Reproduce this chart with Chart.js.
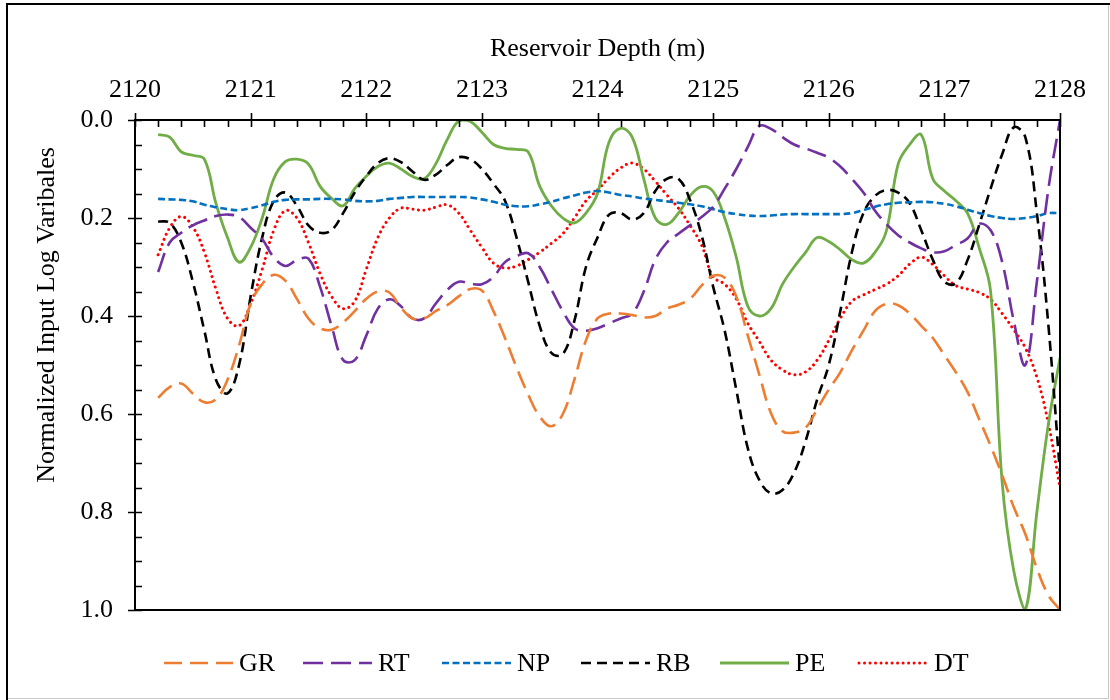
<!DOCTYPE html>
<html lang="en">
<head>
<meta charset="UTF-8" />
<title>Normalized input log variables vs reservoir depth</title>
<script src="https://cdn.jsdelivr.net/npm/chart.js@4.4.1/dist/chart.umd.min.js"></script>
<style>
  html, body { margin: 0; padding: 0; background: #fff; }
  canvas { display: block; }
</style>
</head>
<body>
<canvas id="chart" width="1110" height="700"></canvas>
<script>
// depth samples (m), one every 0.1 m
const depth = [
  2120.2, 2120.3, 2120.4, 2120.5, 2120.6, 2120.7, 2120.8, 2120.9, 2121.0,
  2121.1, 2121.2, 2121.3, 2121.4, 2121.5, 2121.6, 2121.7, 2121.8, 2121.9, 2122.0,
  2122.1, 2122.2, 2122.3, 2122.4, 2122.5, 2122.6, 2122.7, 2122.8, 2122.9, 2123.0,
  2123.1, 2123.2, 2123.3, 2123.4, 2123.5, 2123.6, 2123.7, 2123.8, 2123.9, 2124.0,
  2124.1, 2124.2, 2124.3, 2124.4, 2124.5, 2124.6, 2124.7, 2124.8, 2124.9, 2125.0,
  2125.1, 2125.2, 2125.3, 2125.4, 2125.5, 2125.6, 2125.7, 2125.8, 2125.9, 2126.0,
  2126.1, 2126.2, 2126.3, 2126.4, 2126.5, 2126.6, 2126.7, 2126.8, 2126.9, 2127.0,
  2127.1, 2127.2, 2127.3, 2127.4, 2127.5, 2127.6, 2127.7, 2127.8, 2127.9, 2128.0,
]

// normalized log curves
const gr = [
  0.567, 0.545, 0.538, 0.558, 0.576, 0.57, 0.53, 0.46, 0.375,
  0.335, 0.316, 0.328, 0.365, 0.405, 0.425, 0.428, 0.413, 0.39, 0.365,
  0.35, 0.352, 0.383, 0.405, 0.405, 0.39, 0.378, 0.36, 0.345, 0.348,
  0.39, 0.445, 0.505, 0.56, 0.605, 0.625, 0.6, 0.53, 0.45, 0.405,
  0.395, 0.395, 0.398, 0.403, 0.4, 0.385, 0.377, 0.365, 0.338, 0.318,
  0.322, 0.36, 0.44, 0.52, 0.598, 0.635, 0.638, 0.628, 0.59, 0.55,
  0.515, 0.47, 0.43, 0.39, 0.375, 0.378, 0.395, 0.42, 0.445, 0.48,
  0.515, 0.555, 0.61, 0.665, 0.725, 0.79, 0.845, 0.915, 0.97, 1.0,
]
const rt = [
  0.31, 0.25, 0.23, 0.215, 0.205, 0.196, 0.193, 0.198, 0.22,
  0.243, 0.28, 0.298, 0.286, 0.283, 0.34, 0.42, 0.49, 0.49, 0.44,
  0.385, 0.366, 0.38, 0.405, 0.405, 0.375, 0.347, 0.33, 0.334, 0.335,
  0.32, 0.29, 0.278, 0.272, 0.3, 0.345, 0.39, 0.425, 0.43, 0.425,
  0.415, 0.405, 0.395, 0.35, 0.285, 0.25, 0.232, 0.215, 0.198, 0.177,
  0.14, 0.1, 0.055, 0.012, 0.018, 0.035, 0.05, 0.058, 0.067, 0.077,
  0.095, 0.12, 0.148, 0.185, 0.213, 0.235, 0.25, 0.262, 0.27, 0.268,
  0.255, 0.242, 0.212, 0.225, 0.29, 0.41, 0.5, 0.33, 0.14, 0.0,
]
const np = [
  0.161, 0.162, 0.163, 0.166, 0.173, 0.178, 0.182, 0.184, 0.18,
  0.174, 0.167, 0.163, 0.162, 0.162, 0.161, 0.161, 0.162, 0.165, 0.166,
  0.165, 0.161, 0.159, 0.157, 0.157, 0.157, 0.157, 0.157, 0.158, 0.162,
  0.167, 0.173, 0.176, 0.176, 0.172, 0.167, 0.16, 0.154, 0.148, 0.145,
  0.148, 0.153, 0.156, 0.16, 0.163, 0.166, 0.169, 0.172, 0.176, 0.182,
  0.188, 0.192, 0.195, 0.196, 0.195, 0.193, 0.192, 0.192, 0.192, 0.192,
  0.192, 0.19, 0.184, 0.177, 0.172, 0.169, 0.168, 0.167, 0.168, 0.171,
  0.176, 0.183, 0.19, 0.196, 0.2, 0.202, 0.2, 0.196, 0.19, 0.19,
]
const rb = [
  0.207, 0.21, 0.25, 0.33, 0.43, 0.53, 0.558, 0.5, 0.36,
  0.24, 0.165, 0.148, 0.175, 0.215, 0.23, 0.225, 0.19, 0.148, 0.115,
  0.088, 0.078, 0.086, 0.105, 0.122, 0.112, 0.092, 0.076, 0.08, 0.1,
  0.13, 0.165, 0.24, 0.33, 0.42, 0.475, 0.478, 0.41, 0.3, 0.24,
  0.193, 0.19, 0.203, 0.19, 0.145, 0.12, 0.12, 0.163, 0.235, 0.34,
  0.43, 0.55, 0.67, 0.735, 0.762, 0.755, 0.72, 0.655, 0.57, 0.5,
  0.39, 0.27, 0.19, 0.155, 0.143, 0.148, 0.17, 0.225, 0.285, 0.33,
  0.333, 0.286, 0.215, 0.14, 0.07, 0.015, 0.035, 0.19, 0.42, 0.72,
]
const pe = [
  0.03, 0.035, 0.065, 0.072, 0.08, 0.17, 0.24, 0.29, 0.26,
  0.2, 0.12, 0.085, 0.08, 0.09, 0.135, 0.16, 0.175, 0.14, 0.115,
  0.095, 0.088, 0.1, 0.115, 0.12, 0.09, 0.04, 0.002, 0.003, 0.025,
  0.05, 0.058, 0.06, 0.065, 0.135, 0.175, 0.2, 0.21, 0.19, 0.15,
  0.045, 0.017, 0.035, 0.12, 0.2, 0.213, 0.19, 0.155, 0.136, 0.146,
  0.2, 0.28, 0.38, 0.4, 0.385, 0.335, 0.3, 0.27, 0.24, 0.248,
  0.265, 0.285, 0.292, 0.27, 0.225, 0.09, 0.05, 0.03, 0.12, 0.145,
  0.165, 0.19, 0.26, 0.35, 0.74, 0.92, 1.0, 0.8, 0.62, 0.485,
]
const dt = [
  0.275, 0.22, 0.197, 0.218, 0.27, 0.345, 0.405, 0.42, 0.375,
  0.305, 0.225, 0.185, 0.2, 0.25, 0.313, 0.36, 0.385, 0.37, 0.305,
  0.24, 0.2, 0.18, 0.182, 0.184, 0.178, 0.173, 0.19, 0.225, 0.26,
  0.292, 0.302, 0.298, 0.285, 0.27, 0.252, 0.232, 0.2, 0.165, 0.143,
  0.118, 0.098, 0.088, 0.1, 0.125, 0.153, 0.18, 0.215, 0.255, 0.32,
  0.335, 0.365, 0.415, 0.452, 0.49, 0.51, 0.52, 0.514, 0.49, 0.45,
  0.405, 0.37, 0.357, 0.346, 0.335, 0.318, 0.294, 0.28, 0.295, 0.318,
  0.338, 0.345, 0.352, 0.366, 0.395, 0.428, 0.465, 0.525, 0.62, 0.75,
]

const seriesNames = ['GR', 'RT', 'NP', 'RB', 'PE', 'DT']
const seriesValues = [gr, rt, np, rb, pe, dt]

const styles = {
  GR: { color: '#ED7D31', dash: [18, 8], cap: 'butt', width: 2.6 },
  RT: { color: '#7030A0', dash: [20, 8], cap: 'butt', width: 2.6 },
  NP: { color: '#0070C0', dash: [7, 3.5], cap: 'butt', width: 2.6 },
  RB: { color: '#000000', dash: [10, 6], cap: 'butt', width: 2.6 },
  PE: { color: '#70AD47', dash: [], cap: 'butt', width: 2.8 },
  DT: { color: '#FF0000', dash: [0.01, 5.5], cap: 'round', width: 3 },
}

const serif = "'Liberation Serif', 'Times New Roman', serif"
const font = { family: serif, size: 26 }

// box around the plot, tick marks, y title, legend and outer frame
const decorations = {
  id: 'decorations',
  afterDraw(chart) {
    const { ctx, chartArea: a, scales: { x, y } } = chart
    ctx.save()

    // outer frame
    ctx.strokeStyle = '#c8c8c8'
    ctx.lineWidth = 1
    ctx.strokeRect(7.5, 4.5, 1101, 694)
    ctx.strokeStyle = '#000'
    ctx.lineWidth = 2
    ctx.beginPath()
    ctx.moveTo(7, 700)
    ctx.lineTo(7, 4)
    ctx.lineTo(1110, 4)
    ctx.stroke()

    // plot box
    ctx.strokeRect(a.left, a.top, a.width, a.height)

    // x ticks: major at whole metres, minor every 0.2 m
    ctx.lineWidth = 1.6
    ctx.beginPath()
    for (let i = 0; i <= 40; i++) {
      const px = Math.round(x.getPixelForValue(2120 + i * 0.2)) + 0.5
      const major = i % 5 === 0
      ctx.moveTo(px, major ? a.top - 7 : a.top)
      ctx.lineTo(px, a.top + 7)
    }
    // y ticks: major every 0.2, minor every 0.05
    for (let i = 0; i <= 20; i++) {
      const py = Math.round(y.getPixelForValue(i * 0.05)) + 0.5
      const major = i % 4 === 0
      ctx.moveTo(major ? a.left - 7 : a.left, py)
      ctx.lineTo(a.left + 7, py)
    }
    ctx.stroke()

    // y axis title
    ctx.fillStyle = '#000'
    ctx.font = `26px ${serif}`
    ctx.textAlign = 'center'
    ctx.textBaseline = 'middle'
    ctx.save()
    ctx.translate(47, 315)
    ctx.rotate(-Math.PI / 2)
    ctx.fillText('Normalized Input Log Varibales', 0, 0)
    ctx.restore()

    // legend
    const ly = 663
    ctx.textAlign = 'left'
    chart.data.datasets.forEach((ds, i) => {
      const lx = 164 + i * 139
      ctx.strokeStyle = ds.borderColor
      ctx.lineWidth = ds.borderWidth
      ctx.lineCap = ds.borderCapStyle
      ctx.setLineDash(ds.borderDash)
      ctx.beginPath()
      ctx.moveTo(lx, ly)
      ctx.lineTo(lx + 69, ly)
      ctx.stroke()
      ctx.setLineDash([])
      ctx.fillText(ds.label, lx + 75, ly + 1)
    })

    ctx.restore()
  },
}

const datasets = seriesNames.map((name, k) => ({
  label: name,
  data: depth.map((d, i) => ({ x: d, y: seriesValues[k][i] })),
  borderColor: styles[name].color,
  borderWidth: styles[name].width,
  borderDash: styles[name].dash,
  borderCapStyle: styles[name].cap,
  pointRadius: 0,
  fill: false,
  tension: 0.4,
}))

new Chart(document.getElementById('chart'), {
  type: 'line',
  data: { datasets },
  options: {
    responsive: false,
    animation: false,
    devicePixelRatio: 1,
    layout: { padding: { left: 0, top: 0, right: 50, bottom: 90 } },
    plugins: { legend: { display: false }, tooltip: { enabled: false } },
    scales: {
      x: {
        type: 'linear',
        position: 'top',
        min: 2120,
        max: 2128,
        afterFit: (s) => { s.height = 120 },
        grid: { display: false, drawTicks: false },
        border: { display: false },
        ticks: { stepSize: 1, color: '#000', font, padding: 14, callback: (v) => String(v) },
        title: {
          display: true,
          text: 'Reservoir Depth (m)',
          color: '#000',
          font,
          padding: { top: 34, bottom: 0 },
        },
      },
      y: {
        type: 'linear',
        reverse: true,
        min: 0,
        max: 1,
        afterFit: (s) => { s.width = 135 },
        grid: { display: false, drawTicks: false },
        border: { display: false },
        ticks: { stepSize: 0.2, color: '#000', font, padding: 22, callback: (v) => v.toFixed(1) },
      },
    },
  },
  plugins: [decorations],
})
</script>
</body>
</html>
